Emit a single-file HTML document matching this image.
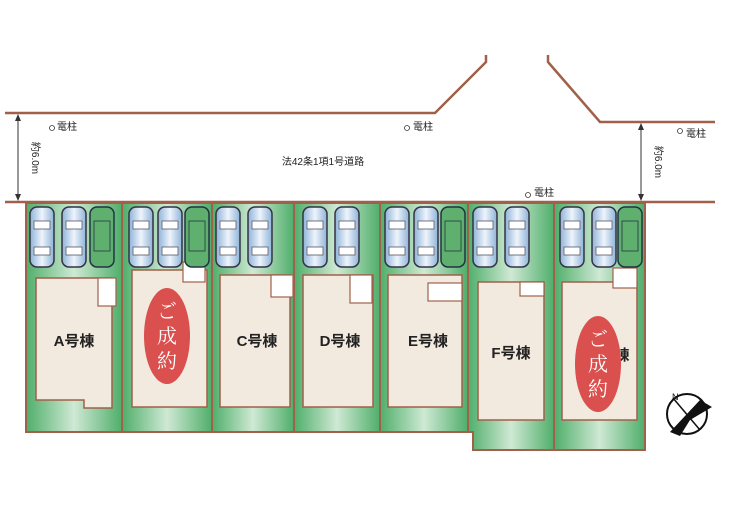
<!DOCTYPE html><html><head><meta charset="utf-8"><style>
body{margin:0;width:732px;height:507px;background:#fff;overflow:hidden;font-family:"Liberation Sans","Noto Sans CJK JP",sans-serif}
</style></head><body>
<svg width="732" height="507" viewBox="0 0 732 507" xmlns="http://www.w3.org/2000/svg">
<defs>
<linearGradient id="g" x1="0" y1="0" x2="1" y2="0">
<stop offset="0" stop-color="#4fae6a"/><stop offset="0.5" stop-color="#cfe9d4"/><stop offset="1" stop-color="#4fae6a"/></linearGradient>
<linearGradient id="c" x1="0" y1="0" x2="1" y2="0"><stop offset="0" stop-color="#8fb3d8"/><stop offset="0.5" stop-color="#eef4fb"/><stop offset="1" stop-color="#8fb3d8"/></linearGradient>
<g id="car"><rect x="0" y="0" width="24" height="60" rx="7" fill="url(#c)" stroke="#334" stroke-width="1.5"/><rect x="4" y="14" width="16" height="8" fill="#fff" stroke="#556" stroke-width="0.8"/><rect x="4" y="40" width="16" height="8" fill="#fff" stroke="#556" stroke-width="0.8"/></g>
<g id="carg"><rect x="0" y="0" width="24" height="60" rx="7" fill="#5fb06f" stroke="#234" stroke-width="1.5"/><rect x="4" y="14" width="16" height="30" fill="none" stroke="#234" stroke-width="0.8"/></g>
</defs>
<g fill="none" stroke="#a0604a" stroke-width="2.5">
<polyline points="5,113 435,113 486,62 486,55"/>
<polyline points="548,55 548,62 600,122 715,122"/>
<line x1="5" y1="202" x2="715" y2="202"/>
</g>
<g stroke="#333" stroke-width="1"><line x1="18" y1="116" x2="18" y2="199"/><line x1="641" y1="125" x2="641" y2="199"/></g>
<g fill="#333"><polygon points="18,114 15,121 21,121"/><polygon points="18,201 15,194 21,194"/><polygon points="641,123 638,130 644,130"/><polygon points="641,201 638,194 644,194"/></g>
<g font-size="10" fill="#222">
<text transform="translate(32,158) rotate(90)" text-anchor="middle">約6.0m</text>
<text transform="translate(655,162) rotate(90)" text-anchor="middle">約6.0m</text>
<text x="57" y="130">電柱</text><text x="413" y="130">電柱</text><text x="686" y="137">電柱</text><text x="534" y="196">電柱</text>
<text x="323" y="165" text-anchor="middle">法42条1項1号道路</text>
</g>
<g fill="none" stroke="#333" stroke-width="0.8"><circle cx="52" cy="128" r="2.5"/><circle cx="407" cy="128" r="2.5"/><circle cx="680" cy="131" r="2.5"/><circle cx="528" cy="195" r="2.5"/></g>
<g fill="url(#g)" stroke="#a0604a" stroke-width="2">
<rect x="26" y="203" width="96" height="229"/><rect x="122" y="203" width="90" height="229"/><rect x="212" y="203" width="82" height="229"/><rect x="294" y="203" width="86" height="229"/><rect x="380" y="203" width="88" height="229"/>
<polygon points="468,203 554,203 554,450 473,450 473,432 468,432"/><rect x="554" y="203" width="91" height="247"/>
</g>
<g fill="#f3eadf" stroke="#a0604a" stroke-width="1.5">
<polygon points="36,278 112,278 112,408 84,408 84,400 36,400"/><rect x="132" y="270" width="75" height="137"/><rect x="220" y="275" width="70" height="132"/><rect x="303" y="275" width="70" height="132"/><rect x="388" y="275" width="74" height="132"/><rect x="478" y="282" width="66" height="138"/><rect x="562" y="282" width="75" height="138"/>
</g>
<g fill="#fff" stroke="#a0604a" stroke-width="1.2">
<rect x="98" y="278" width="18" height="28"/><rect x="183" y="262" width="22" height="20"/><rect x="271" y="275" width="22" height="22"/><rect x="350" y="275" width="22" height="28"/><rect x="428" y="283" width="34" height="18"/><rect x="520" y="282" width="24" height="14"/><rect x="613" y="268" width="24" height="20"/>
</g>
<use href="#car" x="30" y="207"/><use href="#car" x="62" y="207"/><use href="#carg" x="90" y="207"/>
<use href="#car" x="129" y="207"/><use href="#car" x="158" y="207"/><use href="#carg" x="185" y="207"/>
<use href="#car" x="216" y="207"/><use href="#car" x="248" y="207"/>
<use href="#car" x="303" y="207"/><use href="#car" x="335" y="207"/>
<use href="#car" x="385" y="207"/><use href="#car" x="414" y="207"/><use href="#carg" x="441" y="207"/>
<use href="#car" x="473" y="207"/><use href="#car" x="505" y="207"/>
<use href="#car" x="560" y="207"/><use href="#car" x="592" y="207"/><use href="#carg" x="618" y="207"/>
<g font-size="15" font-weight="bold" fill="#222" text-anchor="middle">
<text x="74" y="346">A号棟</text><text x="257" y="346">C号棟</text><text x="340" y="346">D号棟</text><text x="428" y="346">E号棟</text><text x="511" y="358">F号棟</text><text x="622" y="360">棟</text>
</g>
<ellipse cx="167" cy="336" rx="23" ry="48" fill="#d9504e"/>
<ellipse cx="598" cy="364" rx="23" ry="48" fill="#d9504e"/>
<g font-family="'Noto Serif CJK SC',serif" font-size="20" fill="#fff" text-anchor="middle">
<text x="167" y="318">ご</text><text x="167" y="343">成</text><text x="167" y="368">約</text>
<text x="598" y="346">ご</text><text x="598" y="371">成</text><text x="598" y="396">約</text>
</g>
<circle cx="687" cy="414" r="20" fill="none" stroke="#111" stroke-width="2"/>
<polygon points="670,432 700,400 712,407 690,420 680,436" fill="#111"/>
<line x1="673" y1="398" x2="700" y2="430" stroke="#111" stroke-width="1.5"/>
<text x="672" y="400" font-size="9" fill="#111">N</text>
</svg>
</body></html>
